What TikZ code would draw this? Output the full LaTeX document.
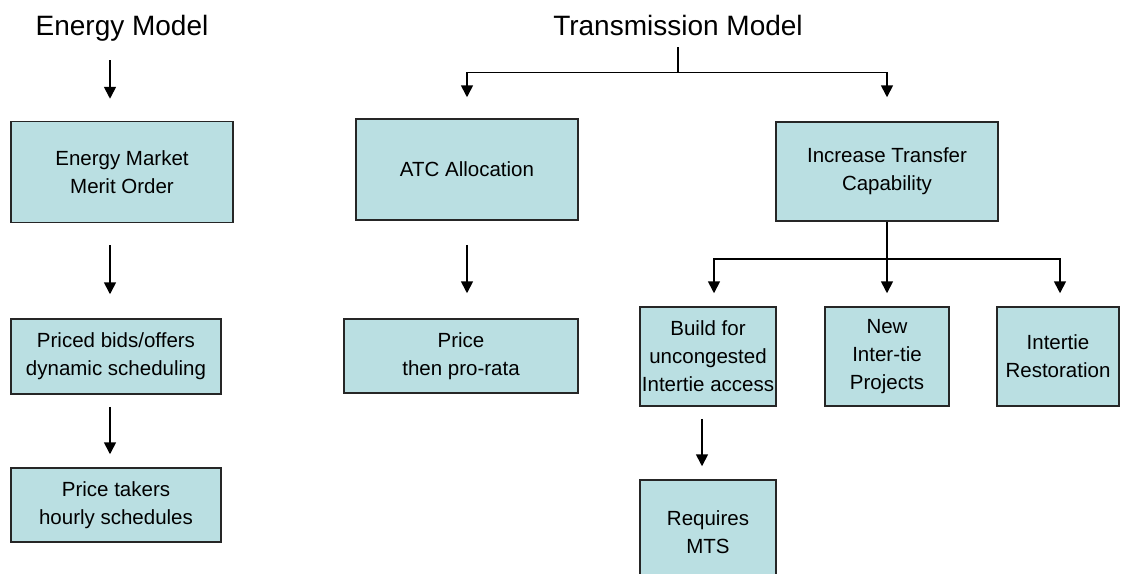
\documentclass[tikz,border=0pt]{standalone}
\usepackage{fontspec}
\setmainfont{Liberation Sans}
\usetikzlibrary{positioning,arrows.meta}
\definecolor{boxfill}{RGB}{186,223,226}
\tikzset{
  box/.style={draw=black!85, fill=boxfill, line width=1.5pt, align=center, inner sep=0pt,
    font=\fontsize{20.5}{28}\selectfont},
  title/.style={font=\fontsize{28}{32}\selectfont, anchor=base, inner sep=0pt},
  link/.style={line width=1.7pt},
  flow/.style={link, -{Triangle[length=12pt,width=12pt]}}
}
\begin{document}
\begin{tikzpicture}[x=1pt,y=-1pt]
  \useasboundingbox (0,0) rectangle (1121,573);
  \clip (0,0) rectangle (1121,573);
  % headings
  \node[title] (etitle) at (122,35) {Energy Model};
  \node[title] (ttitle) at (678,35) {Transmission Model};
  % energy side
  \node[box, minimum width=222pt, minimum height=101pt] (market) at (122,172) {Energy Market\\Merit Order};
  \node[box, minimum width=210pt, minimum height=75pt] (bids) at (116,356.5) {Priced bids/offers\\dynamic scheduling};
  \node[box, minimum width=210pt, minimum height=74pt] (takers) at (116,505) {Price takers\\hourly schedules};
  % transmission side
  \node[box, minimum width=222pt, minimum height=101pt] (atc) at (467,169.5) {ATC Allocation};
  \node[box, minimum width=234pt, minimum height=74pt] (prorata) at (461,356) {Price\\then pro-rata};
  \node[box, minimum width=222pt, minimum height=99pt] (transfer) at (887,171.5) {Increase Transfer\\Capability};
  \node[box, minimum width=136pt, minimum height=99pt] (build) at (708,356.5) {Build for\\uncongested\\Intertie access};
  \node[box, minimum width=124pt, minimum height=99pt] (newtie) at (887,356.5) {New\\Inter-tie\\Projects};
  \node[box, minimum width=122pt, minimum height=99pt] (restore) at (1058,356.5) {Intertie\\Restoration};
  \node[box, minimum width=136pt, minimum height=104pt] (mts) at (708,532) {Requires\\MTS};
  % energy arrows
  \draw[flow] ([xshift=-12pt,yshift=-19pt]etitle.south) -- ([xshift=-12pt,yshift=22pt]market.north);
  \draw[flow] ([xshift=-12pt,yshift=-22pt]market.south) -- ([xshift=-6pt,yshift=24pt]bids.north);
  \draw[flow] ([xshift=-6pt,yshift=-12pt]bids.south) -- ([xshift=-6pt,yshift=13pt]takers.north);
  % transmission tree
  \draw[link] ([yshift=-12pt]ttitle.south) -- ++(0,25) coordinate (tsplit);
  \draw[flow] (tsplit) -| ([yshift=21pt]atc.north);
  \draw[flow] (tsplit) -| ([yshift=24pt]transfer.north);
  \draw[flow] ([yshift=-24pt]atc.south) -- ([xshift=6pt,yshift=25pt]prorata.north);
  \draw[link] (transfer.south) -- ++(0,37) coordinate (isplit);
  \draw[flow] (isplit) -| ([xshift=6pt,yshift=13pt]build.north);
  \draw[flow] (isplit) -- ([yshift=13pt]newtie.north);
  \draw[flow] (isplit) -| ([xshift=2pt,yshift=13pt]restore.north);
  \draw[flow] ([xshift=-6pt,yshift=-12pt]build.south) -- ([xshift=-6pt,yshift=13pt]mts.north);
\end{tikzpicture}
\end{document}
